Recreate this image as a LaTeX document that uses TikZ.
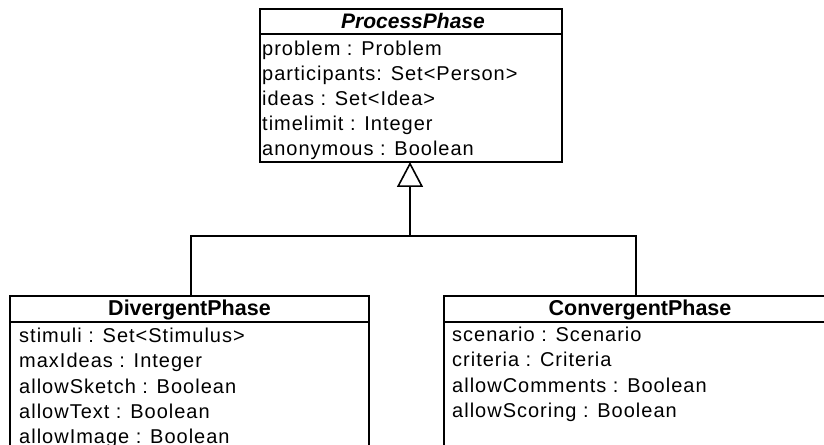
\documentclass[tikz,border=0pt]{standalone}
\usepackage{fontspec}
\setmainfont{Liberation Sans}
\newfontfamily\attrfont[LetterSpace=5]{Liberation Sans}
\usetikzlibrary{arrows.meta}
\tikzset{
  classbox/.style={draw=black, line width=1.6bp, rectangle, inner sep=0pt, outer sep=0pt},
  sep/.style={draw=black, line width=1.6bp},
  attr/.style={anchor=base west, inner sep=0pt, font=\attrfont\fontsize{20bp}{25bp}\selectfont},
  ctitle/.style={anchor=base, inner sep=0pt, font=\fontsize{21.5bp}{25bp}\selectfont\bfseries},
  conn/.style={draw=black, line width=1.6bp},
  inherit/.style={conn, -{Triangle[open, width=26bp, length=25bp, line width=1.6bp]}}
}
\begin{document}
\begin{tikzpicture}[x=1bp, y=-1bp]
\useasboundingbox (0,0) rectangle (824,445);
\clip (0,0) rectangle (824,445);
% ProcessPhase
\node[classbox, minimum width=302bp, minimum height=153bp] (pp) at (411,85.5) {};
\draw[sep] (pp.west |- 0,34) -- (pp.east |- 0,34);
\node[ctitle, font=\fontsize{21bp}{25bp}\selectfont\bfseries\itshape] (ppt) at (413,28.5) {ProcessPhase};
\node[attr] (pp1) at (262,56) {problem : Problem};
\node[attr] (pp2) at (262,81) {participants: Set<Person>};
\node[attr] (pp3) at (262,106) {ideas : Set<Idea>};
\node[attr] (pp4) at (262,131) {timelimit : Integer};
\node[attr] (pp5) at (262,156) {anonymous : Boolean};
% DivergentPhase
\node[classbox, minimum width=359bp, minimum height=200bp] (dv) at (189.5,396) {};
\draw[sep] (dv.west |- 0,322) -- (dv.east |- 0,322);
\node[ctitle] (dvt) at (189.5,316) {DivergentPhase};
\node[attr] (dv1) at (19,343) {stimuli : Set<Stimulus>};
\node[attr] (dv2) at (19,368) {maxIdeas : Integer};
\node[attr] (dv3) at (19,393) {allowSketch : Boolean};
\node[attr] (dv4) at (19,418) {allowText : Boolean};
\node[attr] (dv5) at (19,443) {allowImage : Boolean};
% ConvergentPhase
\node[classbox, minimum width=392bp, minimum height=200bp] (cv) at (640,396) {};
\draw[sep] (cv.west |- 0,322) -- (cv.east |- 0,322);
\node[ctitle] (cvt) at (640,315.5) {ConvergentPhase};
\node[attr] (cv1) at (452,342) {scenario : Scenario};
\node[attr] (cv2) at (452,367) {criteria : Criteria};
\node[attr] (cv3) at (452,392) {allowComments : Boolean};
\node[attr] (cv4) at (452,417) {allowScoring : Boolean};
% generalization
\coordinate (j) at (410,236);
\draw[conn] (dv.north -| 191,0) |- (j) -| (cv.north -| 636,0);
\draw[inherit] (j) -- (pp.south -| 410,0);
\end{tikzpicture}
\end{document}
